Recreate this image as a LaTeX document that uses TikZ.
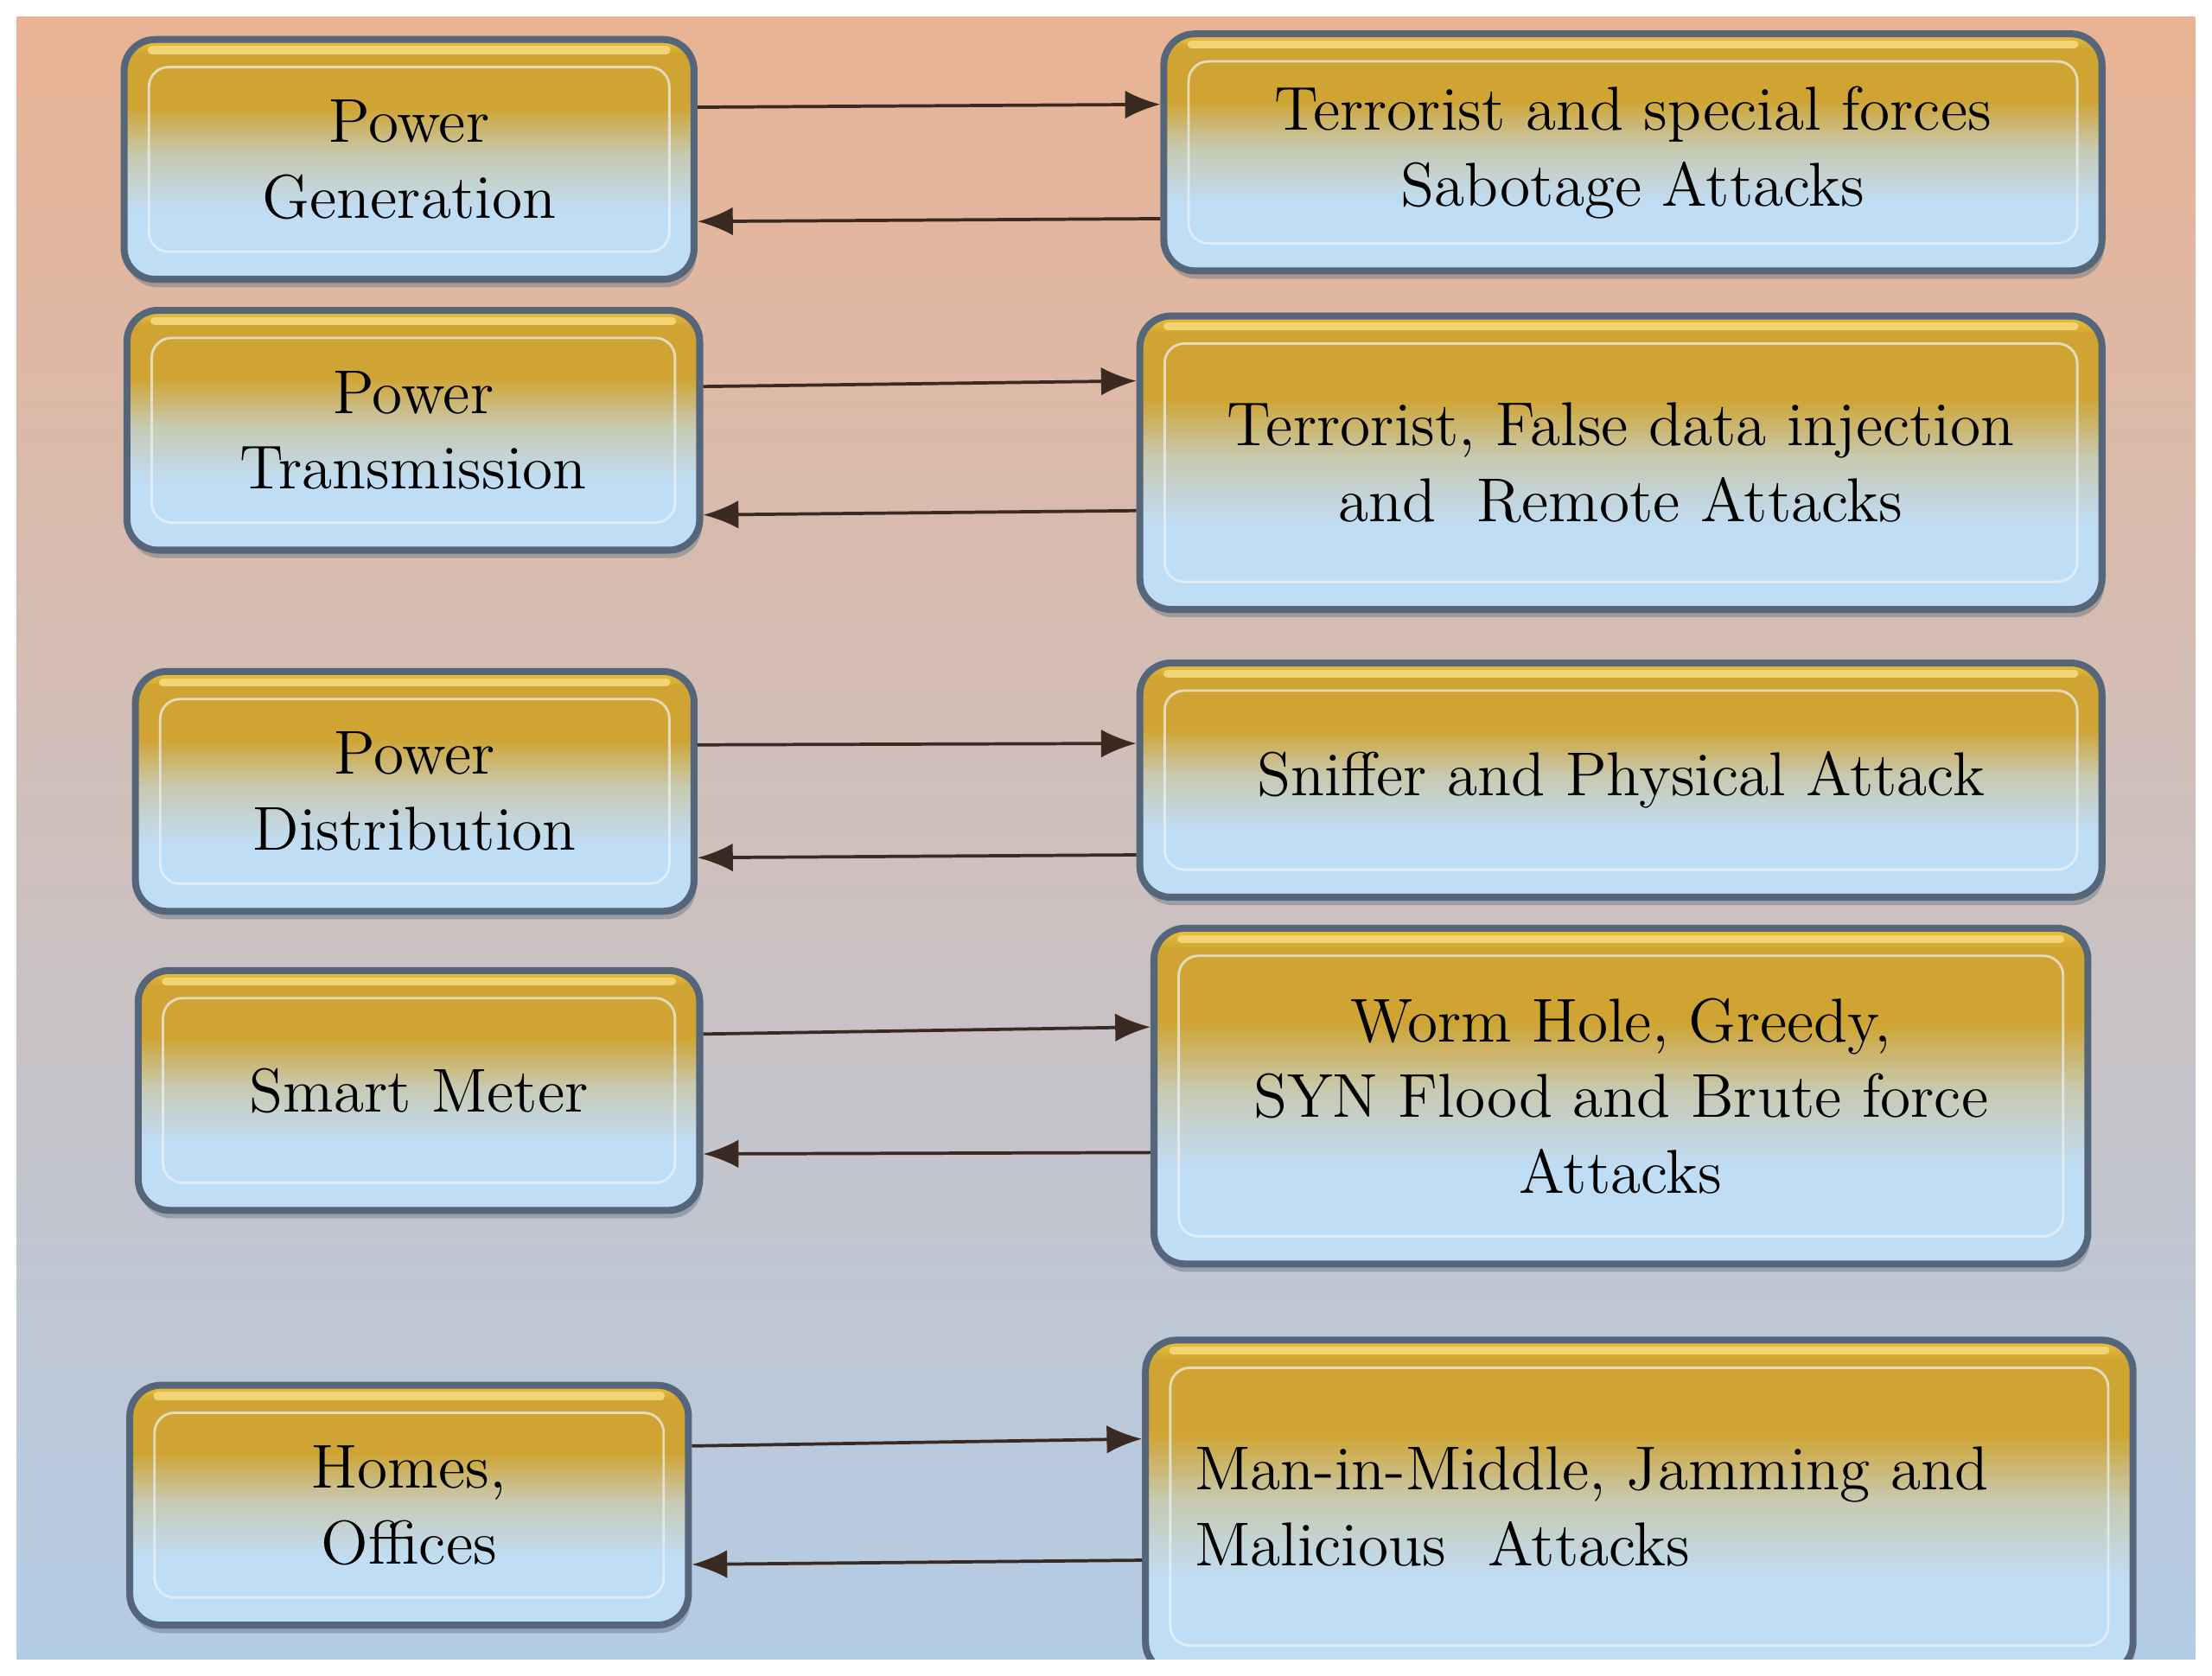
\documentclass[tikz,border=0pt]{standalone}
\usepackage{xcolor}
\usepackage{tikz}
\usetikzlibrary{arrows.meta,shadows}
\definecolor{Peach}{HTML}{E9B394}
\definecolor{Haze}{HTML}{B3CCE5}
\definecolor{BoxGold}{HTML}{CFA432}
\definecolor{BoxHi}{HTML}{EDC23A}
\definecolor{BoxMid}{HTML}{C8C9B0}
\definecolor{BoxSky}{HTML}{C0DDF6}
\definecolor{Edge}{HTML}{56667A}
\definecolor{Rim}{HTML}{EEF3F6}
\definecolor{Ink}{HTML}{3A2A22}
\pgfdeclareverticalshading{boxshade}{100bp}{color(0bp)=(BoxSky); color(25bp)=(BoxSky); color(39bp)=(BoxSky); color(51bp)=(BoxMid); color(61bp)=(BoxGold); color(72bp)=(BoxGold); color(75bp)=(BoxHi); color(100bp)=(BoxHi)}
\tikzset{
  flowarrow/.style={-{Latex[length=2.5mm,width=2mm]}, line width=0.65pt, draw=Ink},
  gridbox/.style={rounded corners=0.22cm, shading=boxshade, draw=Edge, line width=1.4pt, align=center, inner sep=4pt, font=\fontsize{12.5}{15.3}\selectfont, minimum height=1.7cm, drop shadow={shadow xshift=0.4pt, shadow yshift=-1.6pt, fill=Edge, opacity=0.4}},
  attackbox/.style={gridbox, minimum width=6.82cm},
  innerrim/.style={draw=Rim, line width=0.5pt, rounded corners=0.14cm, opacity=0.7},
  rimhi/.style={draw=BoxHi!70!white, line width=1.6pt, line cap=round},
}
\begin{document}
\begin{tikzpicture}[x=1cm,y=1cm]
\path[use as bounding box] (0,0) rectangle (15.68,11.88);
\begin{scope}
\clip (0.12,0.12) rectangle (15.56,11.76);
\fill[top color=Peach,bottom color=Haze] (0.12,0.12) rectangle (15.56,11.76);

% grid stages
\node[gridbox,minimum width=4.04cm] (pg) at (2.90,10.75) {Power\\Generation};
\node[gridbox,minimum width=4.06cm] (pt) at (2.93,8.83) {Power\\Transmission};
\node[gridbox,minimum width=3.96cm] (pd) at (2.94,6.27) {Power\\Distribution};
\node[gridbox,minimum width=3.98cm] (sm) at (2.97,4.15) {Smart Meter};
\node[gridbox,minimum width=3.96cm] (ho) at (2.90,1.21) {Homes,\\Offices};

% attacks
\node[attackbox,minimum width=6.65cm,minimum height=1.68cm] (ag) at (11.575,10.80) {Terrorist and special forces\\Sabotage Attacks};
\node[attackbox,minimum height=2.08cm] (at) at (11.49,8.60) {Terrorist, False data injection\\and\ \ Remote Attacks};
\node[attackbox,minimum height=1.66cm] (ad) at (11.49,6.35) {Sniffer and Physical Attack};
\node[attackbox,minimum width=6.62cm,minimum height=2.38cm] (am) at (11.49,4.11) {Worm Hole, Greedy,\\SYN Flood and Brute force\\Attacks};
\node[attackbox,minimum width=7.00cm,minimum height=2.36cm,inner xsep=0.35cm,text width=6.30cm,align=left] (ah) at (11.62,1.20) {Man-in-Middle, Jamming and\\Malicious\ \ Attacks};

\foreach \n in {pg,pt,pd,sm,ho,ag,at,ad,am,ah}{
  \draw[innerrim] ([shift={(0.2,-0.22)}]\n.north west) rectangle ([shift={(-0.2,0.22)}]\n.south east);
  \draw[rimhi] ([shift={(0.22,-0.1)}]\n.north west) -- ([shift={(-0.22,-0.1)}]\n.north east);
}

% links both ways
\foreach \src/\dst/\a/\b/\c/\d in {
pg/ag/0.37/0.34/-0.47/-0.44,
pt/at/0.31/0.58/-0.34/-0.60,
pd/ad/0.33/0.26/-0.53/-0.47,
sm/am/0.40/0.49/-0.40/-0.45,
ho/ah/0.42/0.48/-0.38/-0.42}{
  \draw[flowarrow] ([yshift=\a cm]\src.east) -- ([yshift=\b cm]\dst.west);
  \draw[flowarrow] ([yshift=\c cm]\dst.west) -- ([yshift=\d cm]\src.east);
}
\end{scope}
\end{tikzpicture}
\end{document}
